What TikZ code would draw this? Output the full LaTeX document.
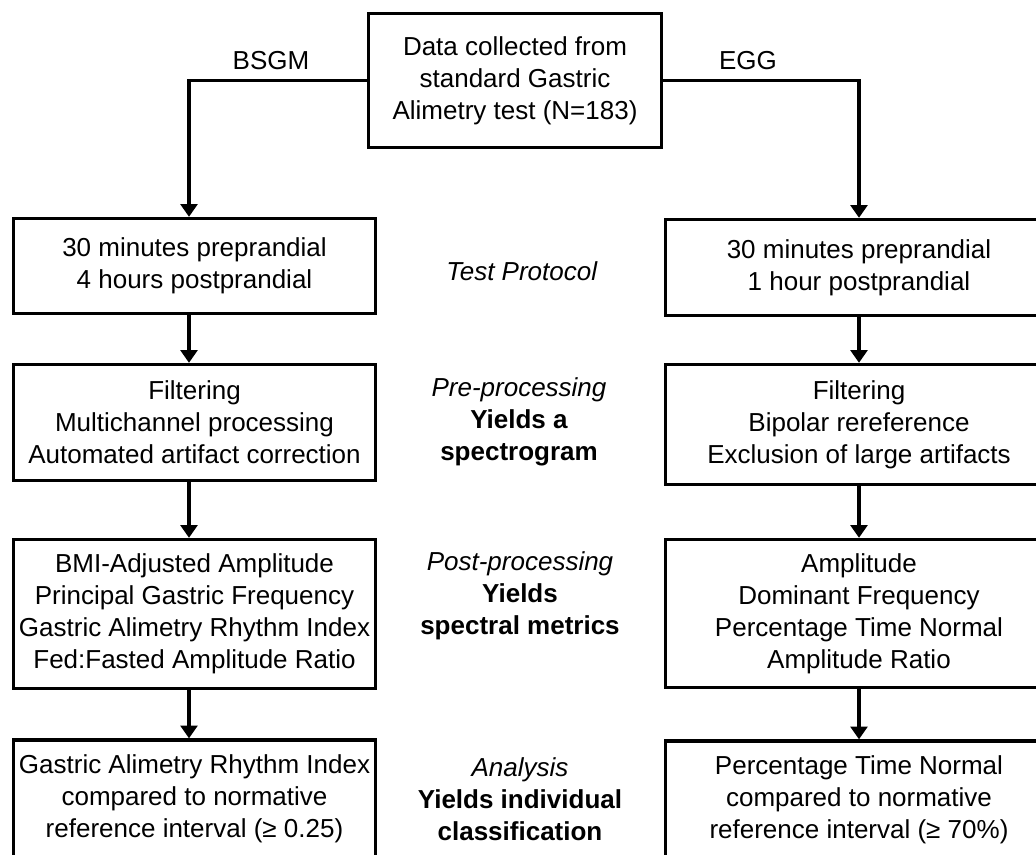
\documentclass[tikz,border=0pt]{standalone}
\usepackage{fontspec}
\setmainfont{Liberation Sans}
\usetikzlibrary{arrows.meta}

\tikzset{
  flowbox/.style={draw, line width=2.5pt, align=center, inner sep=0pt,
    font=\fontsize{19.5}{24}\selectfont},
  midlabel/.style={align=center, font=\fontsize{19.5}{24}\selectfont},
  flowarr/.style={line width=2.5pt, -{Triangle[width=12.5pt,length=9.5pt]}},
}

\begin{document}
\begin{tikzpicture}[x=0.75pt,y=0.75pt,yscale=-1,xscale=1]
\useasboundingbox (0,0) rectangle (1036,854);
\clip (0,0) rectangle (1036,854);

% source box
\node [flowbox, minimum width=219.75pt, minimum height=100.5pt] (data) at (515,80.5)
  {Data collected from\\standard Gastric\\Alimetry test (N=183)};

% BSGM column
\coordinate (bcol) at (189,0);
\node [flowbox, minimum width=271.5pt, minimum height=71.25pt] (bproto) at (194.5,266)
  {30 minutes preprandial\\4 hours postprandial};
\node [flowbox, minimum width=271.5pt, minimum height=87pt] (bpre) at (194.5,422.5)
  {Filtering\\Multichannel processing\\Automated artifact correction};
\node [flowbox, minimum width=271.5pt, minimum height=111.75pt] (bpost) at (194.5,614)
  {BMI-Adjusted Amplitude\\Principal Gastric Frequency\\Gastric Alimetry Rhythm Index\\Fed:Fasted Amplitude Ratio};
\node [flowbox, minimum width=271.5pt, minimum height=88.5pt] (bana) at (194.5,799)
  {Gastric Alimetry Rhythm Index\\compared to normative\\reference interval (≥ 0.25)};

% EGG column
\node [flowbox, minimum width=290.25pt, minimum height=72pt] (eproto) at (859,267.5)
  {30 minutes preprandial\\1 hour postprandial};
\node [flowbox, minimum width=290.25pt, minimum height=90pt] (epre) at (859,424.5)
  {Filtering\\Bipolar rereference\\Exclusion of large artifacts};
\node [flowbox, minimum width=290.25pt, minimum height=111pt] (epost) at (859,613.5)
  {Amplitude\\Dominant Frequency\\Percentage Time Normal\\Amplitude Ratio};
\node [flowbox, minimum width=290.25pt, minimum height=88.5pt] (eana) at (859,800)
  {Percentage Time Normal\\compared to normative\\reference interval (≥ 70\%)};

% stage labels
\node [midlabel] (stproto) at (522,271) {\textit{Test Protocol}};
\node [midlabel] (stpre) at (519,422) {\textit{Pre-processing}\\\textbf{Yields a}\\\textbf{spectrogram}};
\node [midlabel] (stpost) at (520,596) {\textit{Post-processing}\\\textbf{Yields}\\\textbf{spectral metrics}};
\node [midlabel] (stana) at (520,799) {\textit{Analysis}\\\textbf{Yields individual}\\\textbf{classification}};

% branch labels
\node [midlabel] (lbsgm) at (271,61) {BSGM};
\node [midlabel] (legg) at (748,61) {EGG};

% connectors
\draw [flowarr] (data.west) -| (bproto.north -| bcol);
\draw [flowarr] (data.east) -| (eproto.north);
\draw [flowarr] (bproto.south -| bcol) -- (bpre.north -| bcol);
\draw [flowarr] (bpre.south -| bcol) -- (bpost.north -| bcol);
\draw [flowarr] (bpost.south -| bcol) -- (bana.north -| bcol);
\draw [flowarr] (eproto.south) -- (epre.north);
\draw [flowarr] (epre.south) -- (epost.north);
\draw [flowarr] (epost.south) -- (eana.north);

\end{tikzpicture}
\end{document}
